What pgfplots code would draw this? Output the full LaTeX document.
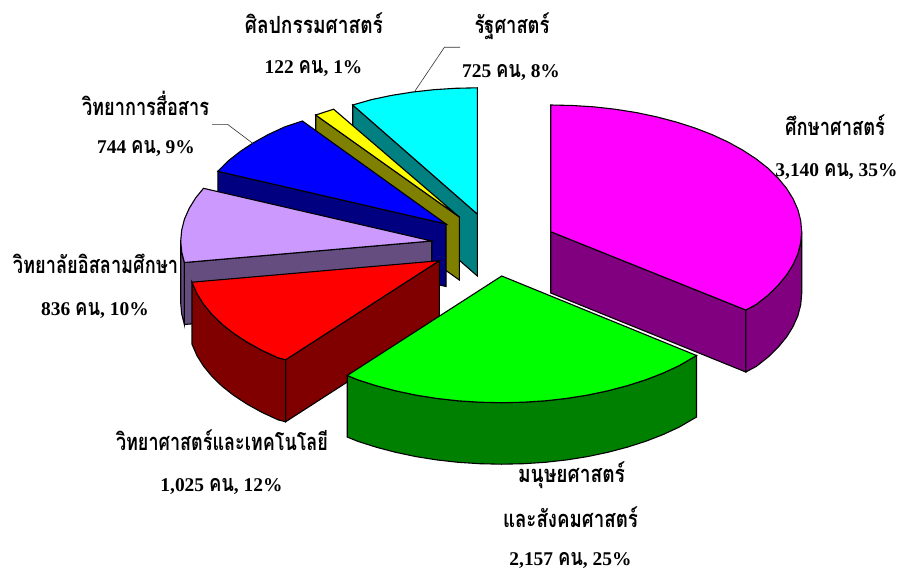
\documentclass[border=0pt]{standalone}
\usepackage{graphicx}
\usepackage{fontspec}
\usepackage{pgfplots}
\pgfplotsset{compat=1.18}
\setmainfont{Liberation Serif}
\newfontfamily\numf{Liberation Serif}[BoldFont={* Bold}]
\newfontfamily\thaif[Script=Thai]{Loma}
\definecolor{mag}{HTML}{FF00FF}
\definecolor{cya}{HTML}{00FFFF}
\definecolor{dmag}{HTML}{800080}
\definecolor{dgrn}{HTML}{008000}
\definecolor{dred}{HTML}{800000}
\definecolor{lav}{HTML}{CC99FF}
\definecolor{dlav}{HTML}{664D80}
\definecolor{dblu}{HTML}{000080}
\definecolor{dyel}{HTML}{808000}
\definecolor{dcya}{HTML}{008080}
\definecolor{pure red}{HTML}{FF0000}
\definecolor{pure green}{HTML}{00FF00}
\definecolor{pure blue}{HTML}{0000FF}
\definecolor{pure yellow}{HTML}{FFFF00}
\newcommand{\ThB}[1]{{\thaif\bfseries #1}}
\newcommand{\NmB}[1]{{\numf\bfseries #1}}
\newcommand{\LabT}[2]{\resizebox{#1bp}{1.25\height}{\fontsize{19}{21}\selectfont\ThB{#2}}}
\newcommand{\LabV}[2]{\fontsize{19.5}{21}\selectfont\NmB{#1 }\scalebox{0.95}[1.2]{\ThB{คน}}\NmB{, #2\%}}
\begin{document}
\begin{tikzpicture}
\begin{axis}[
  scale only axis, width=899bp, height=571bp,
  xmin=0, xmax=899, ymin=0, ymax=571, y dir=reverse,
  axis lines=none, clip=false,
  every axis plot/.style={line width=1.1bp, draw=black, line join=miter, mark=none},
]
% rataya (cyan)
\addplot[fill=dcya] coordinates {(352.7,105) (477.3,214) (477.3,276) (352.7,167)} --cycle;
\addplot[fill=cya] coordinates {(477.3,214) (352.7,105) (371.2,99.7) (391.5,95.4) (412.3,92.1) (433.7,89.7) (455.4,88.3) (477.3,87.8)} --cycle;
% arts (yellow)
\addplot[fill=dyel] coordinates {(315.7,115) (459.3,217) (459.3,280) (315.7,177.5)} --cycle;
\addplot[fill=pure yellow] coordinates {(459.3,217) (315.7,115) (333.6,109.2)} --cycle;
% communication (blue)
\addplot[fill=dblu] coordinates {(217.8,171.3) (446,224) (446,286.5) (217.8,233.5)} --cycle;
\addplot[fill=pure blue] coordinates {(446,224) (217.8,171.3) (228.6,160.6) (240.4,151.3) (253.7,142.6) (268.5,134.4) (284.7,126.9) (302.4,121)} --cycle;
% islamic (lavender)
\addplot[fill=dlav] coordinates {(184.4,262.5) (181.7,252) (180.7,241) (180.7,303) (181.7,314) (184.4,324.5)} --cycle;
\addplot[fill=dlav] coordinates {(184.4,262.5) (431.7,241) (431.7,303) (184.4,324.5)} --cycle;
\addplot[fill=lav] coordinates {(431.7,241) (184.4,262.5) (181.7,252) (180.7,241) (181.7,230) (184.5,219) (189.3,208.2) (195.8,197.7) (203.5,188.3)} --cycle;
% science (red)
\addplot[fill=dred] coordinates {(285.6,359.8) (439.3,260.7) (439.3,322.7) (285.6,421.8)} --cycle;
\addplot[fill=dred] coordinates {(285.6,359.8) (278,357.8) (261.8,350.3) (247,342.1) (233.7,333.4) (221.9,324.1) (211.8,314.2) (203.4,304) (196.9,293.5) (192,282.2) (192,344.2) (196.9,355.5) (203.4,366) (211.8,376.2) (221.9,386.1) (233.7,395.4) (247,404.1) (261.8,412.3) (278,419.8) (285.6,421.8)} --cycle;
\addplot[fill=pure red] coordinates {(439.3,260.7) (285.6,359.8) (278,357.8) (261.8,350.3) (247,342.1) (233.7,333.4) (221.9,324.1) (211.8,314.2) (203.4,304) (196.9,293.5) (192,282.2)} --cycle;
% humanities (green)
\addplot[fill=dgrn] coordinates {(696.5,355.5) (679.2,365.6) (663,373.1) (645.7,379.8) (627.2,385.7) (607.8,390.8) (587.5,395.1) (566.7,398.4) (545.3,400.8) (523.6,402.2) (501.7,402.7) (479.8,402.2) (458.1,400.8) (436.7,398.4) (415.9,395.1) (395.6,390.8) (376.2,385.7) (357.7,379.8) (347.2,375.5) (347.2,437) (357.7,441.3) (376.2,447.2) (395.6,452.3) (415.9,456.6) (436.7,459.9) (458.1,462.3) (479.8,463.7) (501.7,464.2) (523.6,463.7) (545.3,462.3) (566.7,459.9) (587.5,456.6) (607.8,452.3) (627.2,447.2) (645.7,441.3) (663,434.6) (679.2,427.1) (696.5,417)} --cycle;
\addplot[fill=pure green] coordinates {(501.7,276) (696.5,355.5) (679.2,365.6) (663,373.1) (645.7,379.8) (627.2,385.7) (607.8,390.8) (587.5,395.1) (566.7,398.4) (545.3,400.8) (523.6,402.2) (501.7,402.7) (479.8,402.2) (458.1,400.8) (436.7,398.4) (415.9,395.1) (395.6,390.8) (376.2,385.7) (357.7,379.8) (347.2,375.5)} --cycle;
% education (magenta)
\addplot[fill=dmag] coordinates {(550.7,231.7) (745.8,310) (745.8,372) (550.7,293)} --cycle;
\addplot[fill=dmag] coordinates {(745.8,310) (756.3,304.4) (768.1,295.1) (778.2,285.2) (786.6,275) (793.1,264.5) (797.9,253.7) (800.7,242.7) (801.7,231.7) (801.7,293.7) (800.7,304.7) (797.9,315.7) (793.1,326.5) (786.6,337) (778.2,347.2) (768.1,357.1) (756.3,366.4) (745.8,372)} --cycle;
\addplot[fill=mag] coordinates {(550.7,231.7) (550.7,105) (572.6,105.5) (594.3,106.9) (615.7,109.3) (636.5,112.6) (656.8,116.9) (676.2,122) (694.7,127.9) (712,134.6) (728.2,142.1) (743,150.3) (756.3,159) (768.1,168.3) (778.2,178.2) (786.6,188.4) (793.1,198.9) (797.9,209.7) (800.7,220.7) (801.7,231.7) (800.7,242.7) (797.9,253.7) (793.1,264.5) (786.6,275) (778.2,285.2) (768.1,295.1) (756.3,304.4) (745.8,310)} --cycle;
% leader lines
\addplot[line width=0.6bp, draw=black!80] coordinates {(414.5,91.7) (444.4,47.3) (460,47.3)};
\addplot[line width=0.6bp, draw=black!80] coordinates {(252.7,143.3) (227.5,124.3) (212,124.3)};
% labels
\node[inner sep=0] at (axis cs:835,125) {\LabT{100}{ศึกษาศาสตร์}};
\node[inner sep=0,anchor=base] at (axis cs:836.5,176.5) {\LabV{3,140}{35}};
\node[inner sep=0] at (axis cs:571.5,475) {\LabT{107}{มนุษยศาสตร์}};
\node[inner sep=0] at (axis cs:570.5,517) {\LabT{135}{และสังคมศาสตร์}};
\node[inner sep=0,anchor=base] at (axis cs:570.5,565.5) {\LabV{2,157}{25}};
\node[inner sep=0] at (axis cs:222,440) {\LabT{212}{วิทยาศาสตร์และเทคโนโลยี}};
\node[inner sep=0,anchor=base] at (axis cs:221.5,491.5) {\LabV{1,025}{12}};
\node[inner sep=0] at (axis cs:95.5,264) {\LabT{165}{วิทยาลัยอิสลามศึกษา}};
\node[inner sep=0,anchor=base] at (axis cs:95,315.5) {\LabV{836}{10}};
\node[inner sep=0] at (axis cs:145.5,103) {\LabT{127}{วิทยาการสื่อสาร}};
\node[inner sep=0,anchor=base] at (axis cs:146,153.5) {\LabV{744}{9}};
\node[inner sep=0] at (axis cs:314,23) {\LabT{138}{ศิลปกรรมศาสตร์}};
\node[inner sep=0,anchor=base] at (axis cs:313.5,73.5) {\LabV{122}{1}};
\node[inner sep=0] at (axis cs:512,26) {\LabT{75}{รัฐศาสตร์}};
\node[inner sep=0,anchor=base] at (axis cs:511,77.5) {\LabV{725}{8}};
\path (axis cs:0,0) -- (axis cs:899,571);
\end{axis}
\end{tikzpicture}
\end{document}
